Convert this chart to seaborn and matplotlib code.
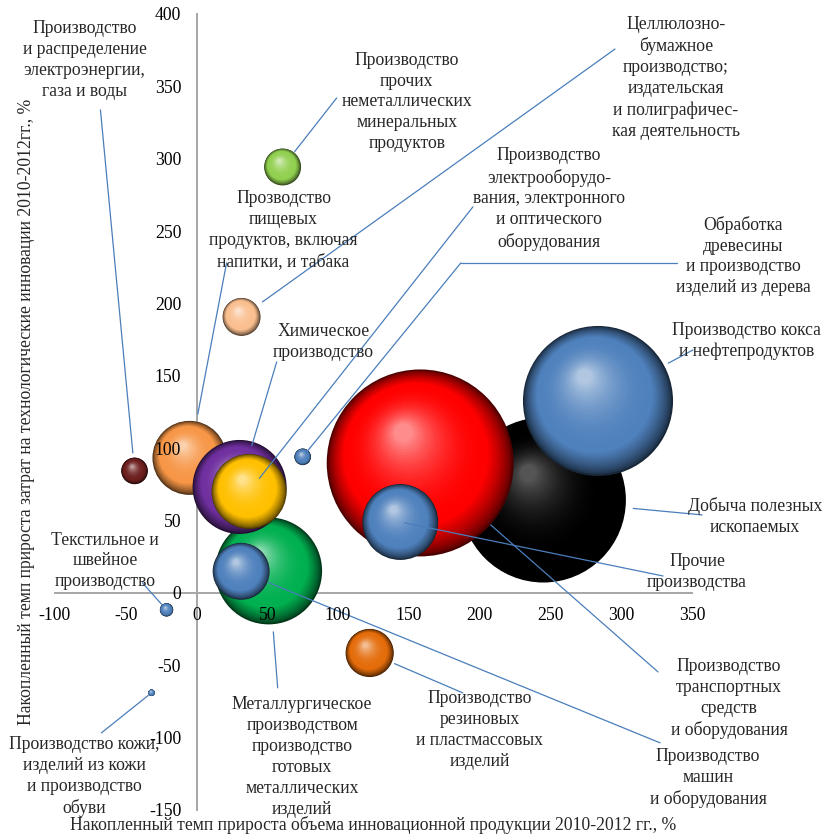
import numpy as np
import pandas as pd
import matplotlib
matplotlib.use("Agg")
import matplotlib.pyplot as plt
import seaborn as sns
from matplotlib.colors import to_rgb

# industries, in drawing order (later ones lie on top)
names = ["mining", "transport", "coke", "other", "metallurgy", "food", "chem",
         "electro", "machines", "electricity", "paper", "nonmetal", "wood",
         "textile", "leather", "rubber"]
# x: accumulated growth of innovative output 2010-2012, %
x_vals = [245.0, 158.0, 283.6, 143.9, 50.9, -5.0, 30.4,
          37.1, 31.5, -43.8, 31.8, 60.8, 75.0,
          -21.2, -31.8, 122.3]
# y: accumulated growth of technological innovation spending 2010-2012, %
y_vals = [64.2, 89.8, 132.6, 49.0, 15.2, 93.3, 73.2,
          70.1, 14.9, 84.3, 190.7, 294.3, 94.0,
          -11.7, -69.0, -41.5]
# bubble size (relative weight)
bubble = [68.1, 87.4, 56.3, 14.4, 28.6, 13.7, 22.1,
          14.1, 8.1, 1.77, 3.6, 3.4, 0.69,
          0.45, 0.11, 5.8]
colors = ["#000000", "#ff0000", "#4f81bd", "#4f81bd", "#00b050", "#f79646", "#7030a0",
          "#ffc000", "#4f81bd", "#6e2020", "#fabf8f", "#92d050", "#4f81bd",
          "#4f81bd", "#4f81bd", "#e46c0a"]
labels = {
    "electricity": "Производство\nи распределение\nэлектроэнергии,\nгаза и воды",
    "food": "Прозводство\nпищевых\nпродуктов, включая\nнапитки, и табака",
    "chem": "Химическое\nпроизводство",
    "electro": "Производство\nэлектрооборудо-\nвания, электронного\nи оптического\nоборудования",
    "paper": "Целлюлозно-\nбумажное\nпроизводство;\nиздательская\nи полиграфичес-\nкая деятельность",
    "nonmetal": "Производство\nпрочих\nнеметаллических\nминеральных\nпродуктов",
    "wood": "Обработка\nдревесины\nи производство\nизделий из дерева",
    "metallurgy": "Металлургическое\nпроизводством\nпроизводство\nготовых\nметаллических\nизделий",
    "machines": "Производство\nмашин\nи оборудования",
    "textile": "Текстильное и\nшвейное\nпроизводство",
    "leather": "Производство кожи,\nизделий из кожи\nи производство\nобуви",
    "rubber": "Производство\nрезиновых\nи пластмассовых\nизделий",
    "transport": "Производство\nтранспортных\nсредств\nи оборудования",
    "mining": "Добыча полезных\nископаемых",
    "coke": "Производство кокса\nи нефтепродуктов",
    "other": "Прочие\nпроизводства",
}

# label layout: text centre, leader start, gap to bubble centre (pt)
layout = {
    "electricity": ((-79.2, 368.2), (-67.9, 333.7), 13),
    "food": ((61.5, 250.8), (21.2, 228.0), 32),
    "chem": ((89.8, 173.4), (56.6, 159.6), 31),
    "paper": ((338.7, 355.8), (295.6, 375.8), 18.5),
    "nonmetal": ((148.5, 339.2), (99.0, 342.0), 14),
    "electro": ((248.9, 272.2), (195.2, 266.7), 12),
    "wood": ((386.1, 232.8), (186.7, 228.0), 3.5),
    "coke": ((388.5, 174.1), (350.7, 167.9), 57.5),
    "mining": ((394.5, 52.5), (357.1, 53.9), 65),
    "other": ((353.5, 14.5), (329.5, 11.7), 3),
    "transport": ((376.2, -73.2), (326.0, -54.6), 67.5),
    "machines": ((361.3, -127.8), (327.4, -103.6), 21),
    "rubber": ((200.1, -94.6), (188.1, -69.1), 19.5),
    "metallurgy": ((74.6, -113.3), (57.3, -65.6), 44),
    "textile": ((-64.7, 22.1), (-38.2, 6.9), 5.5),
    "leather": ((-79.5, -127.1), (-67.2, -96.7), 3),
}
wood_tail = (339.4, 228.0)

sns.set_style("white")
plt.rcParams["font.family"] = ["Liberation Serif", "DejaVu Serif"]
plt.rcParams["axes.unicode_minus"] = False

dpi = 100
fig = plt.figure(figsize=(8.26, 8.36), dpi=dpi)
ax = fig.add_axes([55 / 826, 26 / 836, 637 / 826, 796 / 836])
ax.set_xlim(-100, 350)
ax.set_ylim(-150, 400)

# pixels per data unit
p0 = ax.transData.transform((0, 0))
p1 = ax.transData.transform((1, 1))
ppx, ppy = p1[0] - p0[0], p1[1] - p0[1]

n_layers = 45
tt = np.linspace(0, 1, n_layers)
for k, (nm, cx, cy, v, col) in enumerate(zip(names, x_vals, y_vals, bubble, colors)):
    r_px = 10 * np.sqrt(v)
    base = np.array(to_rgb(col))
    dark = base * 0.3
    light = base + (1 - base) * (0.55 if col != "#000000" else 0.33)
    pal, siz, xs, ys = {}, {}, [], []
    for i, t in enumerate(tt):
        f = 1 - 0.9 * t
        if t < 0.25:
            c = dark + (base - dark) * (t / 0.25) ** 0.7
        else:
            c = base + (light - base) * ((t - 0.25) / 0.75) ** 2.2
        pal[i] = tuple(np.clip(c, 0, 1))
        siz[i] = (2 * r_px * f * 72 / dpi) ** 2
        xs.append(cx - 0.2 * r_px * (1 - f) / ppx)
        ys.append(cy + 0.36 * r_px * (1 - f) / ppy)
    df = pd.DataFrame({"x": xs, "y": ys, "layer": range(n_layers)})
    sns.scatterplot(data=df, x="x", y="y", hue="layer", palette=pal,
                    size="layer", sizes=siz, legend=False, linewidth=0,
                    ax=ax, zorder=3 + k * 0.01)

# leader lines and labels
line_col = "#4a7ebb"
for nm, cx, cy in zip(names, x_vals, y_vals):
    (tx, ty), (sx, sy), gap = layout[nm]
    ax.annotate("", xy=(cx, cy), xytext=(sx, sy),
                arrowprops=dict(arrowstyle="-", color=line_col, lw=0.9,
                                shrinkA=0, shrinkB=gap), zorder=20)
    ax.text(tx, ty, labels[nm], ha="center", va="center", fontsize=12.7,
            linespacing=1.3, zorder=21)
ax.plot([layout["wood"][1][0], wood_tail[0]], [layout["wood"][1][1], wood_tail[1]],
        color=line_col, lw=0.9, clip_on=False, zorder=20)

# axes through zero
for side in ["top", "right"]:
    ax.spines[side].set_visible(False)
ax.spines["left"].set_position(("data", 0))
ax.spines["bottom"].set_position(("data", 0))
for side in ["left", "bottom"]:
    ax.spines[side].set_color("#a6a6a6")
    ax.spines[side].set_linewidth(1.4)
    ax.spines[side].set_zorder(1)
ax.set_xticks(np.arange(-100, 351, 50))
ax.set_yticks(np.arange(-150, 401, 50))
ax.tick_params(axis="both", direction="out", length=5, width=1.2, color="#a6a6a6",
               labelsize=12.7, labelcolor="black")
ax.tick_params(axis="y", pad=6)
ax.tick_params(axis="x", pad=5)
ax.xaxis.set_zorder(25)
ax.yaxis.set_zorder(25)

ax.set_xlabel("Накопленный темп прироста объема инновационной продукции 2010-2012 гг., %",
              fontsize=12.7)
ax.set_ylabel("Накопленный темп прироста затрат на технологические инновации 2010-2012гг., %",
              fontsize=12.7)
ax.xaxis.set_label_coords(0.5, -0.0075)
ax.yaxis.set_label_coords(-0.031, 0.5)

fig.savefig("out.png", dpi=dpi)
